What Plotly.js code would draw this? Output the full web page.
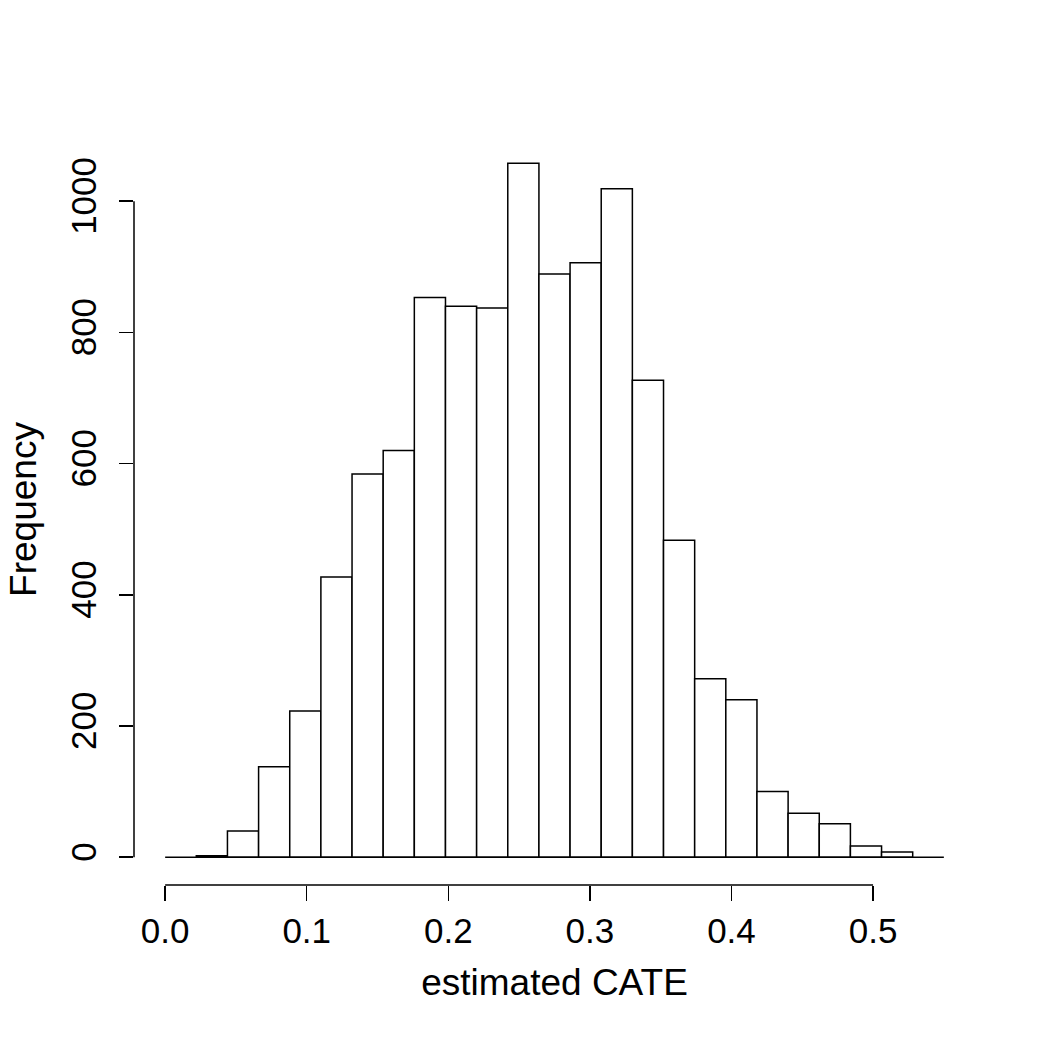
<!DOCTYPE html>
<html>
<head>
<meta charset="utf-8">
<script src="https://cdn.plot.ly/plotly-3.0.1.min.js"></script>
<style>html,body{margin:0;padding:0;background:#fff;}#chart{width:1050px;height:1050px;}</style>
</head>
<body>
<div id="chart"></div>
<script>
// Histogram breaks (bin edges) and counts
var breaks = [0.022, 0.044, 0.066, 0.088, 0.110, 0.132, 0.154, 0.176, 0.198, 0.220, 0.242, 0.264,
              0.286, 0.308, 0.330, 0.352, 0.374, 0.396, 0.418, 0.440, 0.462, 0.484, 0.506, 0.528];
var counts = [2, 40, 138, 223, 427, 584, 620, 853, 840, 837, 1058, 889, 906, 1019, 727, 483,
              272, 240, 100, 67, 51, 17, 8];
var xTicks = [0.0, 0.1, 0.2, 0.3, 0.4, 0.5];
var xTickLabels = ["0.0", "0.1", "0.2", "0.3", "0.4", "0.5"];
var yTicks = [0, 200, 400, 600, 800, 1000];
var yTickLabels = ["0", "200", "400", "600", "800", "1000"];
var baselineX = [0, 0.55];
var xTitle = "estimated CATE";
var yTitle = "Frequency";

var centers = [], widths = [];
for (var i = 0; i < counts.length; i++) {
  centers.push((breaks[i] + breaks[i + 1]) / 2);
  widths.push(breaks[i + 1] - breaks[i]);
}

var FONT = "Liberation Sans, Arial, Helvetica, sans-serif";

var traces = [
  {
    type: "bar", x: centers, y: counts, width: widths,
    marker: {color: "#ffffff", line: {color: "#000000", width: 1.5}},
    hoverinfo: "x+y", showlegend: false
  },
  {
    type: "scatter", mode: "lines", x: baselineX, y: [0, 0],
    line: {color: "#000000", width: 1.5}, hoverinfo: "skip", showlegend: false
  }
];

var shapes = [
  {type: "line", xref: "x", yref: "paper", x0: xTicks[0], x1: xTicks[xTicks.length - 1], y0: 0, y1: 0,
   line: {color: "#000000", width: 1.5}},
  {type: "line", xref: "paper", yref: "y", x0: 0, x1: 0, y0: yTicks[0], y1: yTicks[yTicks.length - 1],
   line: {color: "#000000", width: 1.5}}
];

var layout = {
  width: 1050, height: 1050,
  paper_bgcolor: "#ffffff", plot_bgcolor: "#ffffff",
  margin: {l: 134, r: 75, t: 134, b: 165, pad: 0},
  bargap: 0,
  font: {family: FONT, size: 35, color: "#000000"},
  showlegend: false,
  shapes: shapes,
  xaxis: {
    range: [-0.022, 0.572], showgrid: false, zeroline: false, showline: false,
    tickmode: "array", tickvals: xTicks, ticktext: xTickLabels,
    ticks: "outside", ticklen: 15, tickwidth: 1.5, tickcolor: "#000000",
    tickfont: {family: FONT, size: 35, color: "#000000"},
    ticklabelstandoff: 0,
    title: {text: xTitle, font: {family: FONT, size: 37, color: "#000000"}, standoff: 20},
    automargin: false, fixedrange: true
  },
  yaxis: {
    range: [-42.4, 1102.4], showgrid: false, zeroline: false, showline: false,
    tickmode: "array", tickvals: yTicks, ticktext: yTickLabels,
    ticks: "outside", ticklen: 14, tickwidth: 1.5, tickcolor: "#000000",
    tickangle: -90,
    tickfont: {family: FONT, size: 35, color: "#000000"},
    ticklabelstandoff: 9,
    title: {text: yTitle, font: {family: FONT, size: 37, color: "#000000"}, standoff: 16},
    automargin: false, fixedrange: true
  }
};

Plotly.newPlot("chart", traces, layout, {displayModeBar: false, staticPlot: true});
</script>
</body>
</html>
